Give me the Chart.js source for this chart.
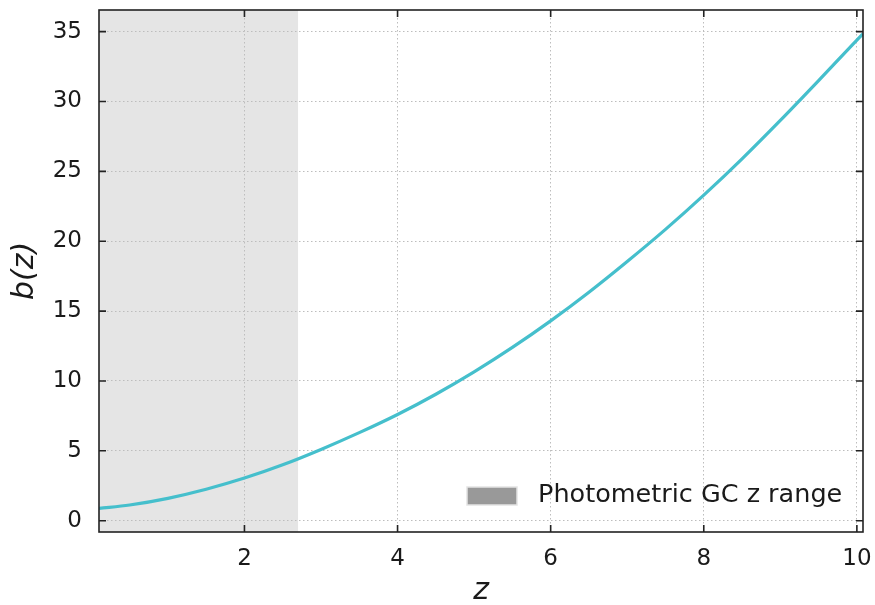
<!DOCTYPE html>
<html>
<head>
<meta charset="utf-8">
<script src="https://cdn.jsdelivr.net/npm/chart.js@4.4.1/dist/chart.umd.min.js"></script>
<style>
html, body { margin: 0; padding: 0; background: #fff; }
#wrap { width: 875px; height: 605px; }
</style>
</head>
<body>
<div id="wrap"><canvas id="myChart"></canvas></div>
<script>
// b(z)
const zValues = [0.1, 0.5, 1.0, 1.5, 2.0, 2.5, 3.0, 3.5, 4.0, 4.5, 5.0, 5.5, 6.0, 6.5, 7.0, 7.5, 8.0, 8.5, 9.0, 9.5, 10.0, 10.08];
const bValues = [0.88, 1.12, 1.6, 2.25, 3.05, 4.0, 5.1, 6.3, 7.6, 9.05, 10.65, 12.4, 14.3, 16.35, 18.55, 20.85, 23.3, 25.9, 28.65, 31.5, 34.4, 34.85];
const gcRange = [0.1, 2.7];
const xTicks = [2, 4, 6, 8, 10];
const yTicks = [0, 5, 10, 15, 20, 25, 30, 35];
const legendLabel = 'Photometric GC z range';

const FONT = "'DejaVu Sans', sans-serif";

const band = {
    id: 'band',
    beforeDraw(chart) {
        const {ctx, chartArea: a, scales: {x}} = chart;
        const x0 = x.getPixelForValue(gcRange[0]);
        const x1 = x.getPixelForValue(gcRange[1]);
        ctx.save();
        ctx.fillStyle = '#e5e5e5';
        ctx.fillRect(x0, a.top, x1 - x0, a.bottom - a.top);
        ctx.restore();
    }
};

const frame = {
    id: 'frame',
    afterDraw(chart) {
        const {ctx, chartArea: a, scales: {x, y}} = chart;
        ctx.save();
        ctx.strokeStyle = '#222';
        ctx.lineWidth = 1.6;
        ctx.strokeRect(a.left, a.top, a.right - a.left, a.bottom - a.top);
        const tl = 7;
        ctx.beginPath();
        xTicks.forEach(v => {
            const px = x.getPixelForValue(v);
            ctx.moveTo(px, a.bottom); ctx.lineTo(px, a.bottom - tl);
            ctx.moveTo(px, a.top); ctx.lineTo(px, a.top + tl);
        });
        yTicks.forEach(v => {
            const py = y.getPixelForValue(v);
            ctx.moveTo(a.left, py); ctx.lineTo(a.left + tl, py);
            ctx.moveTo(a.right, py); ctx.lineTo(a.right - tl, py);
        });
        ctx.stroke();

        // legend
        const bx = a.right - 396, by = a.bottom - 45;
        ctx.fillStyle = '#999999';
        ctx.fillRect(bx, by, 50, 18);
        ctx.strokeStyle = '#e3e3e3';
        ctx.lineWidth = 1.5;
        ctx.strokeRect(bx, by, 50, 18);
        ctx.fillStyle = '#1a1a1a';
        ctx.font = '25.5px ' + FONT;
        ctx.textBaseline = 'middle';
        ctx.textAlign = 'left';
        ctx.fillText(legendLabel, bx + 71, by + 8);
        ctx.restore();
    }
};

const ctx = document.getElementById('myChart');

new Chart(ctx, {
    type: 'line',
    data: {
        datasets: [{
            label: 'b(z)',
            data: zValues.map((z, i) => ({x: z, y: bValues[i]})),
            borderColor: '#45bfcc',
            borderWidth: 3.2,
            pointRadius: 0,
            cubicInterpolationMode: 'monotone',
            fill: false,
        }]
    },
    options: {
        responsive: true,
        maintainAspectRatio: false,
        animation: false,
        layout: { padding: { top: 10, right: 12, left: 0, bottom: 0 } },
        scales: {
            x: {
                type: 'linear',
                min: 0.1,
                max: 10.08,
                afterBuildTicks: s => { s.ticks = xTicks.map(v => ({value: v})); },
                afterFit: s => { s.height = 73; s.paddingLeft = 0; s.paddingRight = 0; },
                grid: { drawTicks: false, color: '#bdbdbd', lineWidth: 1 },
                border: { display: false, dash: [1.5, 2.5] },
                ticks: { padding: 13, color: '#1a1a1a', font: { family: FONT, size: 23 }, maxRotation: 0 },
                title: { display: true, text: 'z', color: '#1a1a1a', padding: 0,
                    font: { family: FONT, size: 30, style: 'italic', lineHeight: 0.9 } }
            },
            y: {
                min: -0.81,
                max: 36.55,
                afterBuildTicks: s => { s.ticks = yTicks.map(v => ({value: v})); },
                afterFit: s => { s.width = 99; s.paddingTop = 0; s.paddingBottom = 0; },
                grid: { drawTicks: false, color: '#bdbdbd', lineWidth: 1 },
                border: { display: false, dash: [1.5, 2.5] },
                ticks: { padding: 17, color: '#1a1a1a', font: { family: FONT, size: 23 } },
                title: { display: true, text: 'b(z)', color: '#1a1a1a', padding: { top: 12, bottom: 0 },
                    font: { family: FONT, size: 30, style: 'italic', lineHeight: 0.9 } }
            }
        },
        plugins: {
            legend: { display: false },
            tooltip: { enabled: false }
        }
    },
    plugins: [band, frame]
});
</script>
</body>
</html>
